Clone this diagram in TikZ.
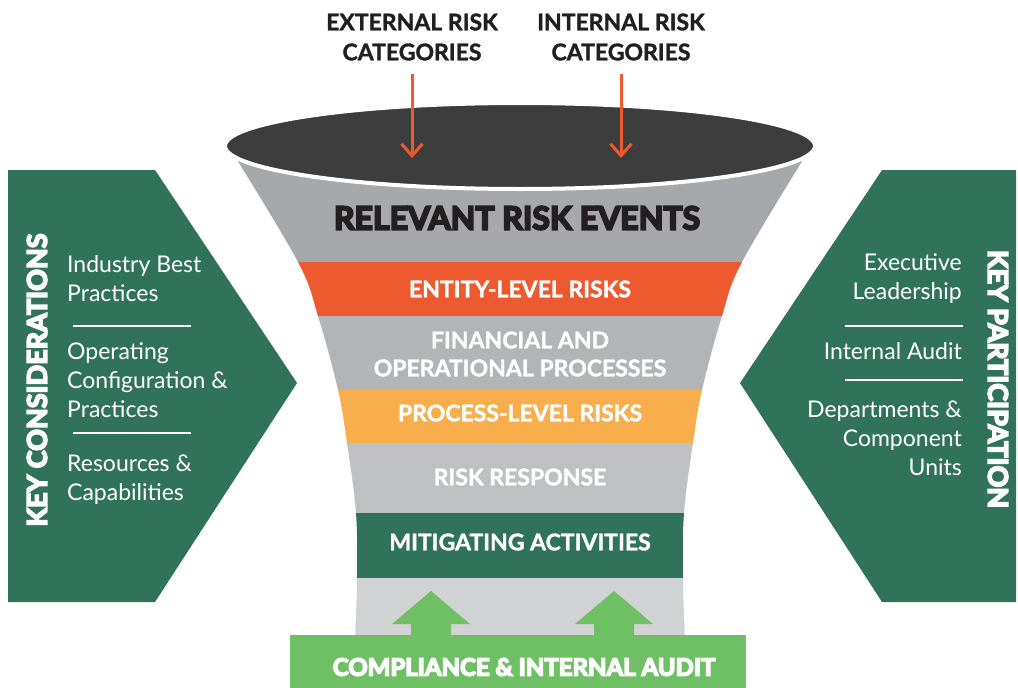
\documentclass[tikz,border=0pt]{standalone}
\usepackage{fontspec}
\setmainfont{Lato}
\newfontfamily\blackfont{Lato}[BoldFeatures={FakeBold=6}]
\newfontfamily\heavyfont{Lato}[BoldFeatures={FakeBold=1.5}]
\usetikzlibrary{arrows.meta}

\definecolor{keygreen}{HTML}{30735A}
\definecolor{lidgray}{HTML}{3D3D3D}
\definecolor{topgray}{HTML}{A7A8AB}
\definecolor{midgray}{HTML}{B3B4B7}
\definecolor{lowgray}{HTML}{BFC0C2}
\definecolor{basegray}{HTML}{D1D2D4}
\definecolor{riskorange}{HTML}{EE5A30}
\definecolor{procorange}{HTML}{F8AE4C}
\definecolor{auditgreen}{HTML}{6FBF65}
\definecolor{inkblack}{HTML}{231F20}

\begin{document}
\begin{tikzpicture}[x=1pt, y=-1pt,
    band/.style = {font=\fontsize{23}{28}\selectfont\heavyfont\bfseries, text=white, align=center},
    item/.style = {font=\fontsize{23}{29}\selectfont, text=white, inner sep=0pt},
    sepline/.style = {white, line width=2pt},
    toplabel/.style = {font=\fontsize{23}{30}\selectfont\heavyfont\bfseries, text=inkblack, align=center},
    sidetitle/.style = {font=\fontsize{27}{30}\selectfont\blackfont\bfseries, text=white},
    riskarrow/.style = {riskorange, line width=3pt, -{Straight Barb[length=12pt, width=21pt]}}]
    \useasboundingbox (0,0) rectangle (1018,688);

    % side chevrons
    \fill[keygreen] (8,170) -- (155,170) -- (297,383) -- (155,602) -- (8,602) -- cycle;
    \fill[keygreen] (1016,170) -- (882,170) -- (740,383) -- (882,602) -- (1016,602) -- cycle;

    \node[sidetitle, rotate=90] (consid) at (37,380) {KEY CONSIDERATIONS};
    \node[sidetitle, rotate=-90] (partic) at (998,379) {KEY PARTICIPATION};

    \node[item, anchor=west, align=left] (best) at (67,279) {Industry Best\\Practices};
    \node[item, anchor=west, align=left] (config) at (67,380) {Operating\\Configuration \&\\Practices};
    \node[item, anchor=west, align=left] (resources) at (67,480) {Resources \&\\Capabilities};
    \draw[sepline] (73,326) -- (191,326) (73,433) -- (191,433);

    \node[item, anchor=east, align=right] (exec) at (962,279) {Executive\\Leadership};
    \node[item, anchor=east, align=right] (audit) at (962,351) {Internal Audit};
    \node[item, anchor=east, align=right] (units) at (962,438) {Departments \&\\Component\\Units};
    \draw[sepline] (845,326) -- (963,326) (845,380) -- (963,380);

    % funnel body, cut into bands
    \begin{scope}
        \clip plot[smooth, tension=0.6] coordinates {(234,155) (298,262) (318,316) (338,390) (347,443) (356,513) (357,578) (355,640)}
            -- plot[smooth, tension=0.6] coordinates {(685,640) (683,578) (684,513) (693,443) (702,390) (722,316) (742,262) (806,155)} -- cycle;
        \fill[topgray] (200,100) rectangle (840,262);
        \fill[riskorange] (200,262) rectangle (840,316);
        \fill[midgray] (200,316) rectangle (840,390);
        \fill[procorange] (200,390) rectangle (840,443);
        \fill[lowgray] (200,443) rectangle (840,513);
        \fill[keygreen] (200,513) rectangle (840,578);
        \fill[basegray] (200,578) rectangle (840,640);
    \end{scope}

    \fill[lidgray, draw=white, line width=4pt] (520,146) ellipse [x radius=295pt, y radius=43pt];

    \node[font=\fontsize{32}{36}\selectfont\blackfont\bfseries, text=inkblack] (events) at (517,218) {RELEVANT RISK EVENTS};
    \node[band] (entity) at (520,289) {ENTITY-LEVEL RISKS};
    \node[band] (processes) at (520,354) {FINANCIAL AND\\OPERATIONAL PROCESSES};
    \node[band] (proclevel) at (520,413) {PROCESS-LEVEL RISKS};
    \node[band] (response) at (520,477) {RISK RESPONSE};
    \node[band] (mitigating) at (520,542) {MITIGATING ACTIVITIES};

    % compliance bar with its two arrows
    \foreach \ax in {431,614}
        \fill[auditgreen] (\ax,591) -- (\ax+39,624) -- (\ax+20,624) -- (\ax+20,640) -- (\ax-20,640) -- (\ax-20,624) -- (\ax-39,624) -- cycle;
    \fill[auditgreen] (290,635) rectangle (746,688);
    \node[font=\fontsize{24}{28}\selectfont\blackfont\bfseries, text=white] (compliance) at (524,667) {COMPLIANCE \& INTERNAL AUDIT};

    % risk categories dropping into the funnel
    \node[toplabel] (external) at (412,37) {EXTERNAL RISK\\CATEGORIES};
    \node[toplabel] (internal) at (621,37) {INTERNAL RISK\\CATEGORIES};
    \coordinate (exttip) at (412,158);
    \coordinate (inttip) at (621,158);
    \draw[riskarrow, shorten <=10pt] (external) -- (exttip);
    \draw[riskarrow, shorten <=10pt] (internal) -- (inttip);
\end{tikzpicture}
\end{document}
